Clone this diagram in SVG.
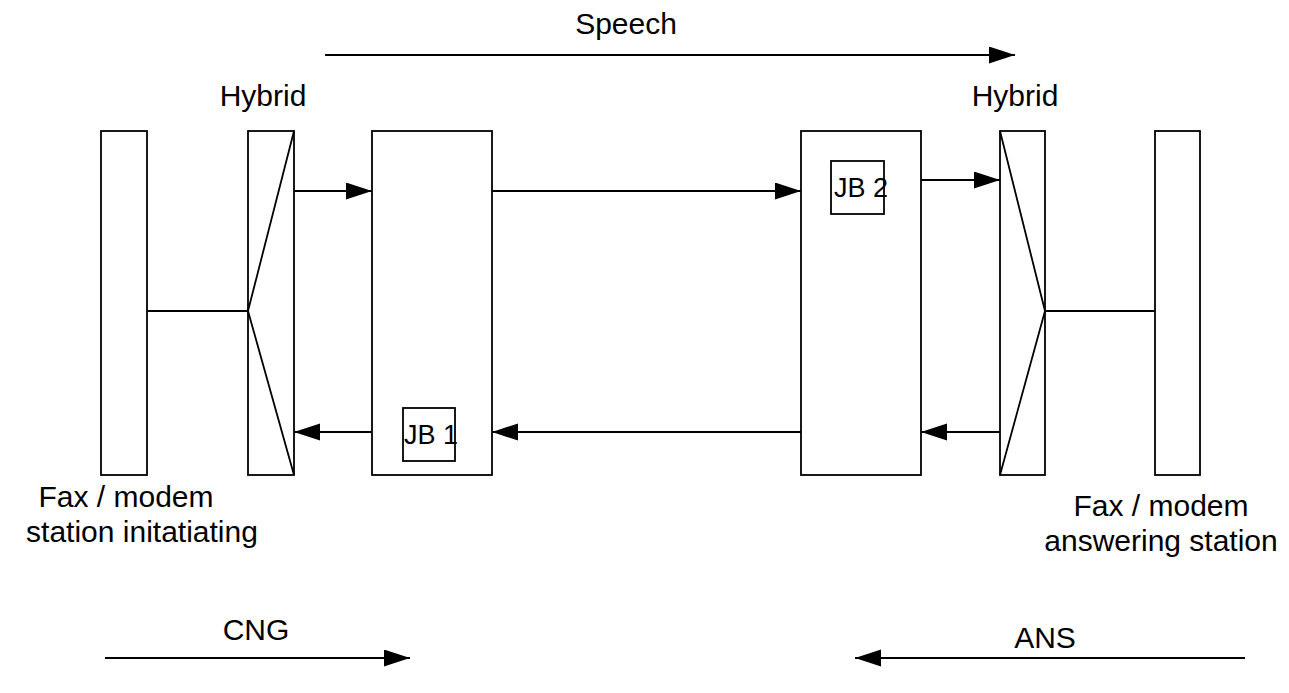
<svg xmlns="http://www.w3.org/2000/svg" width="1289" height="693" viewBox="0 0 1289 693">
<style>
.box{fill:#fff;stroke:#000;stroke-width:1.8}
.ln{fill:none;stroke:#000;stroke-width:1.8}
.t{font-family:"Liberation Sans",Arial,sans-serif;font-size:30px;fill:#000;text-anchor:middle}
.s{font-family:"Liberation Sans",Arial,sans-serif;font-size:27px;fill:#000}
</style>
<defs>
<marker id="ah" markerUnits="userSpaceOnUse" markerWidth="28" markerHeight="18" refX="26" refY="8.5" orient="auto">
<path d="M0,0 L26,8.5 L0,17 Z" fill="#000"/>
</marker>
</defs>
<rect width="1289" height="693" fill="#fff"/>
<g id="station-left"><rect class="box" x="101" y="131" width="46" height="344"/></g>
<g id="hybrid-left"><rect class="box" x="248" y="131" width="46" height="344"/><polyline class="ln" points="294,131 248,311 294,475"/></g>
<g id="gw-left"><rect class="box" x="372" y="131" width="120" height="344"/>
<g id="jb1"><rect class="box" x="403" y="408" width="52" height="53"/><text class="s" x="404" y="444">JB 1</text></g></g>
<g id="gw-right"><rect class="box" x="801" y="131" width="120" height="344"/>
<g id="jb2"><rect class="box" x="831" y="161" width="53" height="53"/><text class="s" x="834" y="197">JB 2</text></g></g>
<g id="hybrid-right"><rect class="box" x="1000" y="131" width="45" height="344"/><polyline class="ln" points="1000,131 1045,311 1000,475"/></g>
<g id="station-right"><rect class="box" x="1155" y="131" width="45" height="344"/></g>
<g id="connectors">
<line class="ln" x1="147" y1="311" x2="248" y2="311"/>
<line class="ln" x1="1045" y1="311" x2="1155" y2="311"/>
<line class="ln" x1="294" y1="191" x2="372" y2="191" marker-end="url(#ah)"/>
<line class="ln" x1="492" y1="191" x2="801" y2="191" marker-end="url(#ah)"/>
<line class="ln" x1="921" y1="180" x2="1000" y2="180" marker-end="url(#ah)"/>
<line class="ln" x1="1000" y1="432" x2="921" y2="432" marker-end="url(#ah)"/>
<line class="ln" x1="801" y1="432" x2="492" y2="432" marker-end="url(#ah)"/>
<line class="ln" x1="372" y1="432" x2="294" y2="432" marker-end="url(#ah)"/>
<line class="ln" x1="325" y1="55" x2="1015" y2="55" marker-end="url(#ah)"/>
<line class="ln" x1="105" y1="658" x2="410" y2="658" marker-end="url(#ah)"/>
<line class="ln" x1="1245" y1="658" x2="855" y2="658" marker-end="url(#ah)"/>
</g>
<g id="labels">
<text class="t" x="626" y="34">Speech</text>
<text class="t" x="263" y="106">Hybrid</text>
<text class="t" x="1015" y="106">Hybrid</text>
<text class="t" x="126" y="507">Fax / modem</text>
<text class="t" x="142" y="542">station initatiating</text>
<text class="t" x="1161" y="516">Fax / modem</text>
<text class="t" x="1161" y="551">answering station</text>
<text class="t" x="256" y="640">CNG</text>
<text class="t" x="1045" y="648">ANS</text>
</g>
</svg>
